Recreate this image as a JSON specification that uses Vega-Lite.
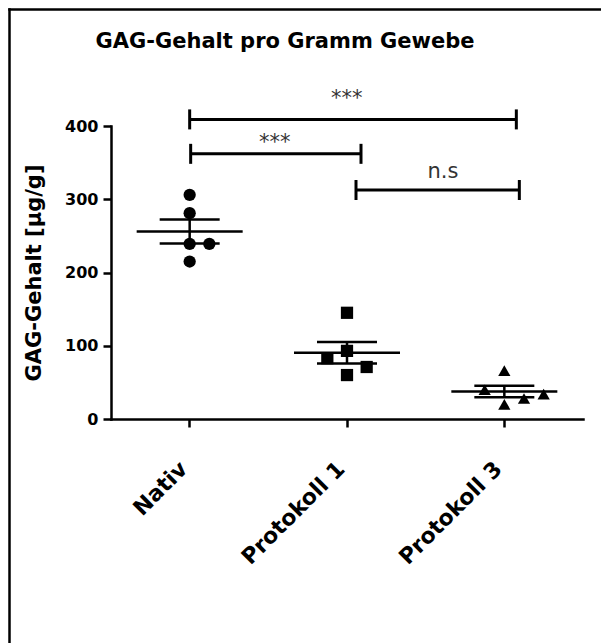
{
  "$schema": "https://vega.github.io/schema/vega-lite/v6.json",
  "width": 592,
  "height": 634,
  "autosize": {"type": "none"},
  "padding": {"left": 9, "top": 9, "right": 0, "bottom": 0},
  "background": "white",
  "config": {"view": {"stroke": null}, "font": "DejaVu Sans", "axis": {"grid": false}},
  "title": {"text": "GAG-Gehalt pro Gramm Gewebe", "font": "DejaVu Sans", "fontSize": 21, "fontWeight": "bold", "color": "black", "anchor": "middle", "frame": "group", "baseline": "alphabetic", "offset": -60, "dx": -20},
  "datasets": {
    "samples": [
      {"group": "Nativ", "value": 306, "slot": 0},
      {"group": "Nativ", "value": 281, "slot": 0},
      {"group": "Nativ", "value": 239, "slot": 0},
      {"group": "Nativ", "value": 239, "slot": 1},
      {"group": "Nativ", "value": 215, "slot": 0},
      {"group": "Protokoll 1", "value": 145, "slot": 0},
      {"group": "Protokoll 1", "value": 93, "slot": 0},
      {"group": "Protokoll 1", "value": 83, "slot": -1},
      {"group": "Protokoll 1", "value": 71, "slot": 1},
      {"group": "Protokoll 1", "value": 60, "slot": 0},
      {"group": "Protokoll 3", "value": 66, "slot": 0},
      {"group": "Protokoll 3", "value": 40, "slot": -1},
      {"group": "Protokoll 3", "value": 28, "slot": 1},
      {"group": "Protokoll 3", "value": 34, "slot": 2},
      {"group": "Protokoll 3", "value": 20, "slot": 0}
    ],
    "brackets": [
      {"from": "Nativ", "to": "Protokoll 3", "y": 409, "label": "***", "labelY": 429},
      {"from": "Nativ", "to": "Protokoll 1", "y": 362, "label": "***", "labelY": 368},
      {"from": "Protokoll 1", "to": "Protokoll 3", "y": 312.6, "label": "n.s", "labelY": 329}
    ]
  },
  "layer": [
    {
      "layer": [
        {
          "data": {"name": "samples"},
          "mark": {"type": "point", "filled": true, "opacity": 1, "size": 150, "color": "black"},
          "encoding": {
            "x": {"field": "group", "type": "nominal", "sort": null, "title": null,
              "scale": {"domain": ["Nativ", "Protokoll 1", "Protokoll 3"], "range": [102, 574], "paddingInner": 0, "paddingOuter": 0},
              "axis": {"orient": "bottom", "offset": -224, "title": null, "labelAngle": -45, "labelAlign": "right", "labelBaseline": "middle", "labelFont": "DejaVu Sans", "labelFontSize": 22, "labelFontWeight": "bold", "labelColor": "black", "labelPadding": 38, "labelOffset": -6, "labelLimit": 400, "labelOverlap": false, "tickSize": 8, "tickWidth": 2.5, "tickColor": "black", "domainColor": "black", "domainWidth": 2.5, "domainCap": "square"}},
            "xOffset": {"field": "slot", "type": "quantitative", "scale": {"domain": [-4, 4]}},
            "y": {"field": "value", "type": "quantitative", "title": "GAG-Gehalt [µg/g]",
              "scale": {"domain": [0, 400], "range": [410, 117], "nice": false},
              "axis": {"orient": "left", "offset": -102, "values": [0, 100, 200, 300, 400], "title": "GAG-Gehalt [µg/g]", "titleFont": "DejaVu Sans", "titleFontSize": 21, "titleFontWeight": "bold", "titleColor": "black", "titlePadding": 20, "labelFont": "DejaVu Sans", "labelFontSize": 16, "labelFontWeight": "bold", "labelColor": "black", "labelPadding": 5, "tickSize": 8, "tickWidth": 2.5, "tickColor": "black", "domainColor": "black", "domainWidth": 2.5, "domainCap": "square"}},
            "shape": {"field": "group", "type": "nominal", "scale": {"domain": ["Nativ", "Protokoll 1", "Protokoll 3"], "range": ["circle", "square", "triangle-up"]}, "legend": null}
          }
        },
        {
          "data": {"name": "samples"},
          "mark": {"type": "tick", "color": "black", "opacity": 1, "size": 106, "thickness": 2.5},
          "encoding": {
            "x": {"field": "group", "type": "nominal", "sort": null, "title": null, "scale": {"domain": ["Nativ", "Protokoll 1", "Protokoll 3"], "range": [102, 574], "paddingInner": 0, "paddingOuter": 0}},
            "y": {"aggregate": "mean", "field": "value", "type": "quantitative", "title": "GAG-Gehalt [µg/g]", "scale": {"domain": [0, 400], "range": [410, 117], "nice": false}}
          }
        },
        {
          "data": {"name": "samples"},
          "mark": {"type": "errorbar", "extent": "stderr", "color": "black", "opacity": 1, "thickness": 2.5, "rule": {"stroke": "black", "strokeWidth": 2.5, "opacity": 1}, "ticks": {"size": 60, "thickness": 2.5, "color": "black", "opacity": 1}},
          "encoding": {
            "x": {"field": "group", "type": "nominal", "sort": null, "title": null, "scale": {"domain": ["Nativ", "Protokoll 1", "Protokoll 3"], "range": [102, 574], "paddingInner": 0, "paddingOuter": 0}},
            "y": {"field": "value", "type": "quantitative", "title": "GAG-Gehalt [µg/g]", "scale": {"domain": [0, 400], "range": [410, 117], "nice": false}}
          }
        },
        {
          "data": {"name": "brackets"},
          "transform": [{"filter": "datum.from == 'Nativ' && datum.to == 'Protokoll 3'"}],
          "encoding": {
            "y": {"field": "y", "type": "quantitative", "title": "GAG-Gehalt [µg/g]", "scale": {"domain": [0, 400], "range": [410, 117], "nice": false}}
          },
          "layer": [
            {"mark": {"type": "rule", "color": "black", "strokeWidth": 3, "xOffset": 0, "x2Offset": 12},
             "encoding": {"x": {"field": "from", "type": "nominal", "title": null, "scale": {"domain": ["Nativ", "Protokoll 1", "Protokoll 3"], "range": [102, 574], "paddingInner": 0, "paddingOuter": 0}}, "x2": {"field": "to"}}},
            {"mark": {"type": "point", "shape": "M0,-1L0,1", "size": 400, "filled": false, "stroke": "black", "strokeWidth": 3, "opacity": 1, "xOffset": 0},
             "encoding": {"x": {"field": "from", "type": "nominal", "title": null, "scale": {"domain": ["Nativ", "Protokoll 1", "Protokoll 3"], "range": [102, 574], "paddingInner": 0, "paddingOuter": 0}}}},
            {"mark": {"type": "point", "shape": "M0,-1L0,1", "size": 400, "filled": false, "stroke": "black", "strokeWidth": 3, "opacity": 1, "xOffset": 12},
             "encoding": {"x": {"field": "to", "type": "nominal", "title": null, "scale": {"domain": ["Nativ", "Protokoll 1", "Protokoll 3"], "range": [102, 574], "paddingInner": 0, "paddingOuter": 0}}}},
            {"mark": {"type": "text", "font": "DejaVu Sans", "fontSize": 21, "color": "#333333", "align": "center", "baseline": "alphabetic", "dx": 157},
             "encoding": {"x": {"field": "from", "type": "nominal", "title": null, "scale": {"domain": ["Nativ", "Protokoll 1", "Protokoll 3"], "range": [102, 574], "paddingInner": 0, "paddingOuter": 0}},
               "y": {"field": "labelY", "type": "quantitative", "title": "GAG-Gehalt [µg/g]", "scale": {"domain": [0, 400], "range": [410, 117], "nice": false}},
               "text": {"field": "label"}}}
          ]
        },
        {
          "data": {"name": "brackets"},
          "transform": [{"filter": "datum.from == 'Nativ' && datum.to == 'Protokoll 1'"}],
          "encoding": {
            "y": {"field": "y", "type": "quantitative", "title": "GAG-Gehalt [µg/g]", "scale": {"domain": [0, 400], "range": [410, 117], "nice": false}}
          },
          "layer": [
            {"mark": {"type": "rule", "color": "black", "strokeWidth": 3, "xOffset": 1, "x2Offset": 14},
             "encoding": {"x": {"field": "from", "type": "nominal", "title": null, "scale": {"domain": ["Nativ", "Protokoll 1", "Protokoll 3"], "range": [102, 574], "paddingInner": 0, "paddingOuter": 0}}, "x2": {"field": "to"}}},
            {"mark": {"type": "point", "shape": "M0,-1L0,1", "size": 400, "filled": false, "stroke": "black", "strokeWidth": 3, "opacity": 1, "xOffset": 1},
             "encoding": {"x": {"field": "from", "type": "nominal", "title": null, "scale": {"domain": ["Nativ", "Protokoll 1", "Protokoll 3"], "range": [102, 574], "paddingInner": 0, "paddingOuter": 0}}}},
            {"mark": {"type": "point", "shape": "M0,-1L0,1", "size": 400, "filled": false, "stroke": "black", "strokeWidth": 3, "opacity": 1, "xOffset": 14},
             "encoding": {"x": {"field": "to", "type": "nominal", "title": null, "scale": {"domain": ["Nativ", "Protokoll 1", "Protokoll 3"], "range": [102, 574], "paddingInner": 0, "paddingOuter": 0}}}},
            {"mark": {"type": "text", "font": "DejaVu Sans", "fontSize": 21, "color": "#333333", "align": "center", "baseline": "alphabetic", "dx": 85},
             "encoding": {"x": {"field": "from", "type": "nominal", "title": null, "scale": {"domain": ["Nativ", "Protokoll 1", "Protokoll 3"], "range": [102, 574], "paddingInner": 0, "paddingOuter": 0}},
               "y": {"field": "labelY", "type": "quantitative", "title": "GAG-Gehalt [µg/g]", "scale": {"domain": [0, 400], "range": [410, 117], "nice": false}},
               "text": {"field": "label"}}}
          ]
        },
        {
          "data": {"name": "brackets"},
          "transform": [{"filter": "datum.from == 'Protokoll 1' && datum.to == 'Protokoll 3'"}],
          "encoding": {
            "y": {"field": "y", "type": "quantitative", "title": "GAG-Gehalt [µg/g]", "scale": {"domain": [0, 400], "range": [410, 117], "nice": false}}
          },
          "layer": [
            {"mark": {"type": "rule", "color": "black", "strokeWidth": 3, "xOffset": 9, "x2Offset": 15},
             "encoding": {"x": {"field": "from", "type": "nominal", "title": null, "scale": {"domain": ["Nativ", "Protokoll 1", "Protokoll 3"], "range": [102, 574], "paddingInner": 0, "paddingOuter": 0}}, "x2": {"field": "to"}}},
            {"mark": {"type": "point", "shape": "M0,-1L0,1", "size": 400, "filled": false, "stroke": "black", "strokeWidth": 3, "opacity": 1, "xOffset": 9},
             "encoding": {"x": {"field": "from", "type": "nominal", "title": null, "scale": {"domain": ["Nativ", "Protokoll 1", "Protokoll 3"], "range": [102, 574], "paddingInner": 0, "paddingOuter": 0}}}},
            {"mark": {"type": "point", "shape": "M0,-1L0,1", "size": 400, "filled": false, "stroke": "black", "strokeWidth": 3, "opacity": 1, "xOffset": 15},
             "encoding": {"x": {"field": "to", "type": "nominal", "title": null, "scale": {"domain": ["Nativ", "Protokoll 1", "Protokoll 3"], "range": [102, 574], "paddingInner": 0, "paddingOuter": 0}}}},
            {"mark": {"type": "text", "font": "DejaVu Sans", "fontSize": 21, "color": "#333333", "align": "center", "baseline": "alphabetic", "dx": 96},
             "encoding": {"x": {"field": "from", "type": "nominal", "title": null, "scale": {"domain": ["Nativ", "Protokoll 1", "Protokoll 3"], "range": [102, 574], "paddingInner": 0, "paddingOuter": 0}},
               "y": {"field": "labelY", "type": "quantitative", "title": "GAG-Gehalt [µg/g]", "scale": {"domain": [0, 400], "range": [410, 117], "nice": false}},
               "text": {"field": "label"}}}
          ]
        }
      ]
    },
    {
      "data": {"name": "samples"},
      "mark": {"type": "point", "opacity": 0},
      "encoding": {
        "x": {"field": "group", "type": "nominal", "scale": {"type": "point"},
          "axis": {"orient": "top", "labels": false, "ticks": false, "title": null, "domainColor": "black", "domainWidth": 2.5, "domainCap": "square"}},
        "y": {"field": "value", "type": "quantitative",
          "axis": {"orient": "right", "offset": -592, "labels": false, "ticks": false, "title": null, "grid": false, "domainColor": "black", "domainWidth": 2.5, "domainCap": "square"}}
      }
    }
  ],
  "resolve": {"scale": {"x": "independent", "y": "independent"}, "axis": {"x": "independent", "y": "independent"}}
}
